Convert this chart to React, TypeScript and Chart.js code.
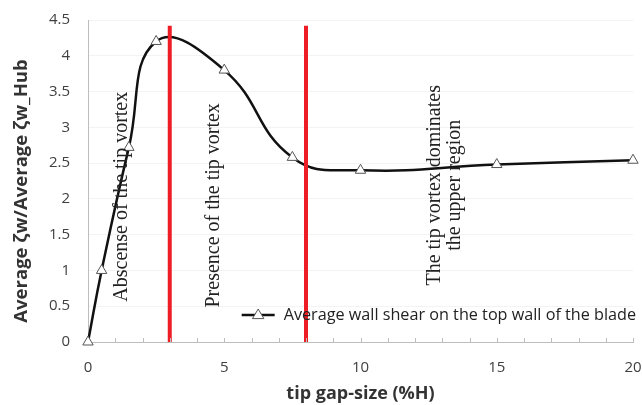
import React, { useEffect, useRef } from "react";
import { Chart, registerables } from "chart.js";

Chart.register(...registerables);

// ---- data ----
const gapSize = [0, 0.5, 1.5, 2.5, 5, 7.5, 10, 15, 20];
const shearRatio = [0, 1.0, 2.72, 4.2, 3.8, 2.58, 2.4, 2.48, 2.54];
const boundaryGaps = [3, 8];
const boundaryBottom = 0;
const boundaryTop = 4.42;
const xMajorLabels = [0, 5, 10, 15, 20];
const yMin = 0;
const yMax = 4.5;
const seriesLabel = "Average wall shear on the top wall of the blade";
const xTitle = "tip gap-size (%H)";
const yTitle = "Average ζw/Average ζw_Hub";
const regionNotes = [
  { lines: ["Abscense of the tip vortex"], x: 1.25, y: 2.03 },
  { lines: ["Presence of the tip vortex"], x: 4.6, y: 1.91 },
  { lines: ["The tip vortex dominates", "the upper region"], x: 13.1, y: 2.19 },
];

const SANS = "'Open Sans', 'Liberation Sans', sans-serif";
const SERIF = "'Liberation Serif', 'DejaVu Serif', serif";

const extrasPlugin = {
  id: "extras",
  afterDatasetsDraw(chart: any) {
    const { ctx, chartArea, scales } = chart;
    const xs = scales.x;
    const ys = scales.y;
    ctx.save();
    // inner minor tick marks on x axis
    ctx.strokeStyle = "#bdbdbd";
    ctx.lineWidth = 1;
    for (let v = 1; v <= 20; v++) {
      const px = Math.round(xs.getPixelForValue(v)) + 0.5;
      ctx.beginPath();
      ctx.moveTo(px, chartArea.bottom);
      ctx.lineTo(px, chartArea.bottom - 4);
      ctx.stroke();
    }
    // y axis title
    ctx.save();
    ctx.fillStyle = "#333";
    ctx.font = `bold 18.5px ${SANS}`;
    ctx.textAlign = "center";
    ctx.textBaseline = "middle";
    ctx.translate(22, (chartArea.top + chartArea.bottom) / 2 + 10);
    ctx.rotate(-Math.PI / 2);
    ctx.fillText(yTitle, 0, 0);
    ctx.restore();
    // region notes (rotated serif text)
    ctx.fillStyle = "#222";
    ctx.font = `20px ${SERIF}`;
    ctx.textAlign = "center";
    ctx.textBaseline = "middle";
    regionNotes.forEach((n) => {
      const cx = xs.getPixelForValue(n.x);
      const cy = ys.getPixelForValue(n.y);
      const lh = 20;
      n.lines.forEach((line, i) => {
        const off = (i - (n.lines.length - 1) / 2) * lh;
        ctx.save();
        ctx.translate(cx + off, cy);
        ctx.rotate(-Math.PI / 2);
        ctx.fillText(line, 0, 0);
        ctx.restore();
      });
    });
    // legend (inside plot, bottom right)
    ctx.font = `16.2px ${SANS}`;
    ctx.textAlign = "left";
    ctx.textBaseline = "middle";
    const tw = ctx.measureText(seriesLabel).width;
    const tx = chartArea.right + 3 - tw;
    const ty = chartArea.bottom - 27;
    ctx.fillStyle = "#222";
    ctx.fillText(seriesLabel, tx, ty);
    ctx.strokeStyle = "#111";
    ctx.lineWidth = 2.5;
    ctx.beginPath();
    ctx.moveTo(tx - 42, ty);
    ctx.lineTo(tx - 9, ty);
    ctx.stroke();
    const mx = tx - 25.5;
    const r = 6;
    ctx.beginPath();
    ctx.moveTo(mx, ty - r);
    ctx.lineTo(mx + r * 0.95, ty + r * 0.6);
    ctx.lineTo(mx - r * 0.95, ty + r * 0.6);
    ctx.closePath();
    ctx.fillStyle = "#fff";
    ctx.fill();
    ctx.strokeStyle = "#555";
    ctx.lineWidth = 1;
    ctx.stroke();
    ctx.restore();
  },
};

export default function App() {
  const ref = useRef<HTMLCanvasElement | null>(null);
  useEffect(() => {
    document.body.style.margin = "0";
    if (!ref.current) return;
    const chart = new Chart(ref.current, {
      type: "line",
      data: {
        datasets: [
          ...boundaryGaps.map((g) => ({
            label: "boundary " + g,
            data: [
              { x: g, y: boundaryBottom },
              { x: g, y: boundaryTop },
            ],
            borderColor: "#ee1c25",
            borderWidth: 4,
            pointRadius: 0,
            tension: 0,
            order: 0,
            clip: false as any,
          })),
          {
            label: seriesLabel,
            data: gapSize.map((x, i) => ({ x, y: shearRatio[i] })),
            borderColor: "#111",
            borderWidth: 2.5,
            tension: 0.45,
            pointStyle: "triangle",
            pointRadius: 6,
            pointBackgroundColor: "#fff",
            pointBorderColor: "#555",
            pointBorderWidth: 1,
            order: 1,
            clip: false as any,
          },
        ],
      },
      options: {
        animation: false,
        responsive: false,
        events: [],
        layout: { padding: { top: 20, right: 9, left: 0, bottom: 0 } },
        plugins: { legend: { display: false }, tooltip: { enabled: false } },
        scales: {
          x: {
            type: "linear",
            min: 0,
            max: 20,
            afterBuildTicks: (s: any) => {
              s.ticks = xMajorLabels.map((v) => ({ value: v }));
            },
            afterFit: (s: any) => {
              s.height = 63;
              s.paddingLeft = 0;
              s.paddingRight = 0;
            },
            ticks: {
              color: "#404040",
              font: { family: SANS, size: 15 },
              padding: 17,
              maxRotation: 0,
              autoSkip: false,
            },
            grid: { display: false, drawTicks: false },
            border: { display: true, color: "#bdbdbd", width: 1 },
            title: {
              display: true,
              text: xTitle,
              color: "#333",
              font: { family: SANS, size: 18, weight: "bold" },
              padding: { top: 0, bottom: 0 },
            },
          },
          y: {
            type: "linear",
            min: yMin,
            max: yMax,
            afterFit: (s: any) => {
              s.width = 88;
              s.paddingTop = 0;
              s.paddingBottom = 0;
            },
            ticks: {
              stepSize: 0.5,
              color: "#404040",
              font: { family: SANS, size: 15 },
              padding: 18,
              callback: (v: any) => String(Number(v)),
            },
            grid: { color: "#f3f3f3", drawTicks: false },
            border: { display: true, color: "#bdbdbd", width: 1 },
            title: { display: false },
          },
        },
      },
      plugins: [extrasPlugin],
    } as any);
    return () => chart.destroy();
  }, []);
  return (
    <div style={{ width: 642, height: 405, background: "#fff" }}>
      <canvas ref={ref} width={642} height={405} />
    </div>
  );
}
